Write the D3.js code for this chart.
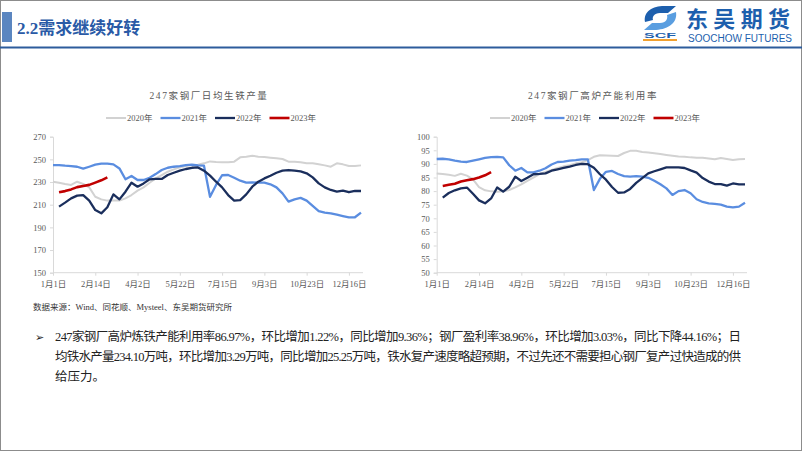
<!DOCTYPE html>
<html><head><meta charset="utf-8">
<script src="https://cdn.jsdelivr.net/npm/d3@7"></script>
<style>
body{margin:0;background:#fff;}
svg{display:block;}
</style></head><body>
<svg id="c" width="802" height="451"></svg>
<script>
// ---------- data ----------
const weeks = d3.range(52); // weekly categories, week index
const xTickIdx = [0, 7, 14, 21, 28, 35, 42, 49];
const xTickLabels = ["1月1日", "2月14日", "4月2日", "5月22日", "7月15日", "9月3日", "10月23日", "12月16日"];
const years = ["2020年", "2021年", "2022年", "2023年"];

const prod2020 = [230.3,229.4,228.3,227.4,230.3,228.3,225.3,217,214.7,213.6,213.6,213.6,215.6,218.5,222.4,225.3,229.4,233.2,236.2,239.1,241.2,242.9,244.1,245,245.3,246.5,248.2,247.7,247.4,247.4,248,251.8,252.4,253.2,252.4,252.1,251.5,250.9,250.3,248,248,247.4,246.5,246.5,245.6,244.7,243.5,246.5,245.6,244.1,244.1,244.7];
const prod2021 = [245,245,244.4,244.1,243.5,241.8,243.5,245.3,246.2,246.2,245.6,242,232.4,235.3,231.8,231.8,233.8,237,240.6,242.6,243.5,244.1,245,245.3,244.7,244.4,217,227.4,236,236.2,233.8,231.2,229.4,229.7,229.4,229.4,228,225.3,220,212.7,214.7,216,213.6,208.9,204.4,203,202.4,201.2,200,198.9,198.9,203];
const prod2022 = [null,208.3,211.8,215.6,218,218.5,213.6,205.3,202.4,207.7,219.1,214.7,221.5,229.4,225.9,228.8,232.4,232.7,232.7,236.2,238.2,240,241.5,242.6,242.9,240,235.6,230.3,225.3,218.5,213.6,214.1,219.1,225.9,230.3,233.2,235.6,238.2,240,240.6,240,239.4,237.7,234.1,228.8,225.3,223,221.5,222.4,221,222.1,222.1];
const prod2023 = [null,221,222,223.5,225.5,226.5,227.5,229.5,231.5,234.1];

const util2020 = [86.5,86.3,86,85.6,86.4,85.7,84.3,81.5,80.3,79.9,79.8,79.9,80.4,81.4,82.5,83.8,85,86.2,87,87.8,88.5,89.1,89.5,90.2,90.6,91.4,92.6,93.2,93.1,93,92.9,94,94.8,94.8,94.4,94.2,93.9,93.6,93.3,93,92.7,92.6,92.4,92.3,92.3,92,91.7,92.2,91.8,91.4,91.7,91.8];
const util2021 = [91.8,91.9,91.7,91.2,90.8,90.7,91.2,91.7,92.2,92.5,92.6,92.4,89.5,87.5,88.5,86.9,86.9,87.5,88.4,89.8,90.7,90.8,91.2,91.4,91.7,91.7,80.4,84.5,87.1,87.4,86.3,85.5,85.3,85.5,85.3,84.9,83.8,82.5,81,78.6,80,80.4,79.2,77,76,75.5,75.3,75,74.3,74,74.3,75.7];
const util2022 = [null,77.6,79.3,80.3,81,81.3,79,76.6,75.5,77.3,81.3,79.8,81.6,85.3,83.7,84.9,86.2,86.3,86.5,87.5,88,88.5,89,89.6,90,89.9,88.6,86.2,84.2,81.5,79.4,79.5,80.8,83,84.8,86.5,87.3,88,88.7,88.7,88.7,88.5,87.6,86.8,84.8,83.5,82.6,82.6,82,82.8,82.5,82.5];
const util2023 = [null,81.9,82.3,82.7,83.5,84,84.4,85,85.8,86.97];

const prodTicks = [150, 170, 190, 210, 230, 250, 270];
const utilTicks = [50, 55, 60, 65, 70, 75, 80, 85, 90, 95, 100];

// ---------- styles ----------
const lineColors = ["#d2d2d2", "#5a8de0", "#1a2e5c", "#c00000"];
const lineWidths = [2, 2.3, 2.3, 2.6];
const serif = "'Liberation Serif','Times New Roman','Noto Sans CJK SC',serif";
const cjk = "'Noto Sans CJK SC','Liberation Serif',sans-serif";

const svg = d3.select("#c");
svg.append("rect").attr("x", 0.5).attr("y", 0.5).attr("width", 801).attr("height", 450)
  .attr("fill", "#fff").attr("stroke", "#8c8c8c");

// header
svg.append("rect").attr("x", 2).attr("y", 12).attr("width", 10).attr("height", 30).attr("fill", "#5b86c0");
svg.append("text").attr("x", 17).attr("y", 34).attr("font-family", "'Liberation Serif','Noto Sans CJK SC',serif")
  .attr("font-weight", "bold").attr("font-size", 17).attr("fill", "#2a5aa6")
  .text("2.2").append("tspan").attr("font-family", cjk).text("需求继续好转");
svg.append("rect").attr("x", 0).attr("y", 46.5).attr("width", 802).attr("height", 2).attr("fill", "#2d5c9c");

// logo
const logo = svg.append("g");
logo.append("path").attr("d", "M645,22 C643,10 655,5 667,6 L676,6 L668,13 L660,13 C654,13 652,17 653,20 Z").attr("fill", "#1d5fad");
logo.append("path").attr("d", "M676,12 C678,24 666,30 654,30 L644,30 L652,23 L660,23 C666,23 668,19 667,15 Z").attr("fill", "#5a9ee0");
logo.append("text").attr("x", 644).attr("y", 38).attr("font-family", "'Liberation Sans',Arial,sans-serif")
  .attr("font-weight", "bold").attr("font-size", 8).attr("fill", "#1d5fad")
  .attr("textLength", 32).attr("lengthAdjust", "spacingAndGlyphs").text("SCF");
logo.append("rect").attr("x", 643).attr("y", 39).attr("width", 34).attr("height", 2).attr("fill", "#f0a030");
svg.append("text").attr("x", 686).attr("y", 27).attr("font-family", cjk).attr("font-weight", "bold")
  .attr("font-size", 22).attr("fill", "#1d5fad").attr("textLength", 104).text("东吴期货");
svg.append("text").attr("x", 688).attr("y", 42).attr("font-family", "'Liberation Sans',Arial,sans-serif")
  .attr("font-size", 10).attr("fill", "#1d5fad").attr("textLength", 104).text("SOOCHOW FUTURES");

function drawChart(cfg) {
  const g = svg.append("g");
  const x = d3.scalePoint().domain(weeks).range([cfg.x0, cfg.x1]);
  const y = d3.scaleLinear().domain(cfg.yDomain).range([272.7, 136.7]);

  // axes
  const yAxis = d3.axisLeft(y).tickValues(cfg.yTicks).tickSize(3).tickPadding(4);
  const ya = g.append("g").attr("transform", `translate(${cfg.x0},0)`).call(yAxis);
  ya.select(".domain").attr("stroke", "#d9d9d9");
  ya.selectAll(".tick line").attr("stroke", "#d9d9d9");
  ya.selectAll("text").attr("font-family", serif).attr("font-size", 8.5).attr("fill", "#595959");

  const xAxis = d3.axisBottom(x).tickValues(xTickIdx).tickFormat((d, i) => xTickLabels[i]).tickSize(3).tickPadding(5);
  const xa = g.append("g").attr("transform", `translate(0,${y(cfg.yDomain[0])})`).call(xAxis);
  xa.select(".domain").attr("stroke", "#d9d9d9").attr("d", `M${cfg.x0},0H${cfg.x1 + 2}`);
  xa.selectAll(".tick line").attr("stroke", "#d9d9d9");
  xa.selectAll("text").attr("font-family", serif).attr("font-size", 8.5).attr("fill", "#595959");

  // lines
  const line = d3.line().defined(d => d != null).x((d, i) => x(weeks[i])).y(d => y(d)).curve(d3.curveLinear);
  cfg.series.forEach((s, k) => {
    g.append("path").datum(s).attr("fill", "none").attr("stroke", lineColors[k])
      .attr("stroke-width", lineWidths[k]).attr("stroke-linejoin", "round").attr("d", line);
  });

  // title
  g.append("text").attr("x", cfg.titleX).attr("y", 99).attr("text-anchor", "middle")
    .attr("font-family", "'Liberation Serif','Noto Sans CJK SC',serif").attr("font-size", 9.5)
    .attr("letter-spacing", 1.6).attr("fill", "#595959").text(cfg.title);

  // legend
  years.forEach((yr, k) => {
    const lx = cfg.legendX + k * 54.5;
    g.append("line").attr("x1", lx).attr("x2", lx + 20).attr("y1", 118).attr("y2", 118)
      .attr("stroke", lineColors[k]).attr("stroke-width", lineWidths[k]);
    g.append("text").attr("x", lx + 21).attr("y", 121).attr("font-family", serif).attr("font-size", 8.5)
      .attr("fill", "#595959").text(yr);
  });
}

drawChart({x0: 53, x1: 361, yDomain: [150, 270], yTicks: prodTicks, title: "247家钢厂日均生铁产量",
  titleX: 209, legendX: 106, series: [prod2020, prod2021, prod2022, prod2023]});
drawChart({x0: 436.7, x1: 745, yDomain: [50, 100], yTicks: utilTicks, title: "247家钢厂高炉产能利用率",
  titleX: 593, legendX: 490, series: [util2020, util2021, util2022, util2023]});

// source
svg.append("text").attr("x", 33).attr("y", 310).attr("font-family", serif).attr("font-size", 8.5)
  .attr("fill", "#333").text("数据来源：Wind、同花顺、Mysteel、东吴期货研究所");

// bullet text
const bodyFont = "'Liberation Serif','Noto Sans CJK SC',serif";
svg.append("text").attr("x", 35).attr("y", 341).attr("font-family", cjk).attr("font-size", 11).attr("fill", "#222").text("➢");
const lines = [
  "247家钢厂高炉炼铁产能利用率86.97%，环比增加1.22%，同比增加9.36%；钢厂盈利率38.96%，环比增加3.03%，同比下降44.16%；日",
  "均铁水产量234.10万吨，环比增加3.29万吨，同比增加25.25万吨，铁水复产速度略超预期，不过先还不需要担心钢厂复产过快造成的供",
  "给压力。"
];
lines.forEach((t, i) => {
  const tx = svg.append("text").attr("x", 55).attr("y", 341 + i * 20).attr("font-family", bodyFont)
    .attr("font-size", 12.5).attr("fill", "#222").text(t);
  if (i < 2) tx.attr("textLength", 686).attr("lengthAdjust", "spacing");
});
</script>
</body></html>
